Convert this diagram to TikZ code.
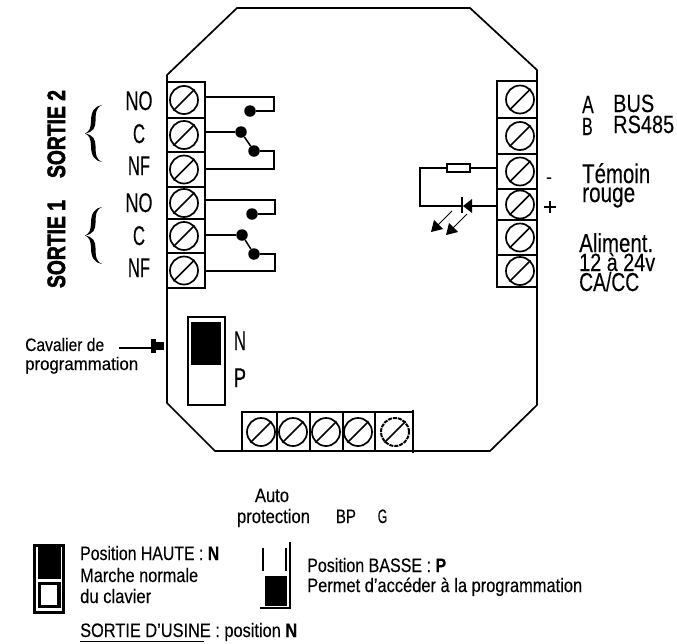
\documentclass[tikz,border=0pt]{standalone}
\usepackage{fontspec}
\usepackage{graphicx}
\setmainfont{Liberation Sans}[FakeBold=0.25]
\newfontfamily\heavy{Liberation Sans Bold}[FakeBold=2.5]
\newsavebox\fitb
\newcommand\fitw[3]{\fontsize{#2}{#2}\selectfont\sbox\fitb{#3}\pgfmathsetmacro\fitsc{#1/\wd\fitb}\scalebox{\fitsc}[1]{\usebox\fitb}}
\tikzset{
  x=1pt,y=-1pt,
  line/.style={draw=black,line width=1.7pt},
  wire/.style={draw=black,line width=1.5pt,line join=miter},
  bay/.style={draw=black,line width=1.4pt},
  dot/.style={circle,fill=black,inner sep=0pt,minimum size=11.5pt},
  lab/.style={anchor=base west,inner sep=0pt,text=black},
  clab/.style={anchor=base,inner sep=0pt,text=black},
  screw/.style={circle,draw=black,line width=1.7pt,inner sep=0pt,minimum size=28pt},
}
\newcommand\screwat[3]{%
  \node[screw,#3] (#1) at #2 {};
  \draw[line width=1.7pt] (#1.225) -- (#1.45);}
\begin{document}
\begin{tikzpicture}
\useasboundingbox (0,0) rectangle (677,643);
% case outline
\draw[line] (237,8) -- (470,8) -- (537,70) -- (537,405) -- (490,451) -- (215,451) -- (167,403) -- (167,75) -- cycle;
% left terminals
\foreach \a/\b/\n in {82/118/1,118/152/2,152/187/3,187/219/4,219/253/5,253/288/6}{
  \draw[bay] (167,\a) rectangle (205,\b);
  \screwat{ls\n}{(184,{(\a+\b)/2})}{}
}
% right terminals
\foreach \a/\b/\n in {81/118/1,118/154/2,154/189/3,189/220/4,220/255/5,255/287/6}{
  \draw[bay] (497,\a) rectangle (537,\b);
  \screwat{rs\n}{(520,{(\a+\b)/2})}{}
}
% bottom terminals
\foreach \a/\b/\c/\n in {242/277/261/1,277/310/293/2,310/343/326/3,343/375/358/4}{
  \draw[bay] (\a,412) rectangle (\b,451);
  \screwat{bs\n}{(\c,432)}{}
}
\draw[bay] (375,412) rectangle (413,451);
\draw[line width=1.7pt] (413,410) -- (413,453);
\screwat{bs5}{(395,432)}{dash pattern=on 4pt off 1pt,line width=2pt}
% relay 2
\node[dot] (c1a) at (250,111) {};
\node[dot] (c1b) at (241,132) {};
\node[dot] (c1c) at (254,151) {};
\coordinate (w1a) at (205,97);
\coordinate (w1b) at (205,132);
\coordinate (w1c) at (205,169);
\draw[wire] (w1a) -- (274,97) -- (274,111) -- (c1a);
\draw[wire] (w1b) -- (c1b);
\draw[wire] (c1b) -- (c1c);
\draw[wire] (c1c) -- (274,151) -- (274,169) -- (w1c);
% relay 1
\node[dot] (c2a) at (252,214) {};
\node[dot] (c2b) at (242,235) {};
\node[dot] (c2c) at (254,254) {};
\coordinate (w2a) at (205,200);
\coordinate (w2b) at (205,235);
\coordinate (w2c) at (205,271);
\draw[wire] (w2a) -- (275,200) -- (275,214) -- (c2a);
\draw[wire] (w2b) -- (c2b);
\draw[wire] (c2b) -- (c2c);
\draw[wire] (c2c) -- (275,254) -- (275,271) -- (w2c);
% labels left
\node[clab] (no2) at (139,110) {\fitw{27}{27}{NO}};
\node[clab] (cc2) at (139,143) {\fitw{12}{27}{C}};
\node[clab] (nf2) at (139,175) {\fitw{22}{27}{NF}};
\node[clab] (no1) at (139,212) {\fitw{27}{27}{NO}};
\node[clab] (cc1) at (139,245) {\fitw{12}{27}{C}};
\node[clab] (nf1) at (139,277) {\fitw{22}{27}{NF}};
\node[clab,rotate=90] (so2) at (65,134) {\fitw{88}{25}{\heavy SORTIE 2}};
\node[clab,rotate=90] (so1) at (65,244) {\fitw{88}{25}{\heavy SORTIE 1}};
% braces
\foreach \t in {105,207}{
  \fill (102,\t) .. controls (95,\t+1) and (91,\t+6) .. (91,\t+16)
     .. controls (91,\t+23) and (89,\t+27) .. (85,\t+28.5)
     .. controls (89,\t+30) and (91,\t+34) .. (91,\t+41)
     .. controls (91,\t+51) and (95,\t+56) .. (102,\t+57)
     .. controls (97,\t+55) and (95.5,\t+51) .. (95.5,\t+41)
     .. controls (95.5,\t+34) and (93,\t+30) .. (85,\t+28.5)
     .. controls (93,\t+27) and (95.5,\t+23) .. (95.5,\t+16)
     .. controls (95.5,\t+6) and (97,\t+2) .. (102,\t) -- cycle;
}
% LED
\node[draw=black,line width=1.3pt,inner sep=0pt,minimum width=23pt,minimum height=8pt] (res) at (458.5,168) {};
\coordinate (wa) at (497,168);
\coordinate (wb) at (497,206);
\draw[wire] (wa) -- (res.east);
\draw[wire] (res.west) -- (420,168) -- (420,206) -- (463,206);
\draw[wire] (472,206) -- (wb);
\fill (463,206) -- (472,199) -- (472,213) -- cycle;
\draw[line width=1.5pt] (462,197) -- (462,213);
\draw[line width=.8pt] (452,211) -- (438,225);
\fill (431,232) -- (434,220) -- (443,229) -- cycle;
\draw[line width=.8pt] (467,214) -- (453,228);
\fill (446,235) -- (449,223) -- (458,232) -- cycle;
% labels right
\node[lab] (la) at (582,113) {\fitw{11.5}{25}{A}};
\node[lab] (lb) at (582,135) {\fitw{10.5}{25}{B}};
\node[lab] (bus) at (613,112) {\fitw{41}{25}{BUS}};
\node[lab] (rs) at (613,133) {\fitw{61}{25}{RS485}};
\node[lab] (tem) at (582,183) {\fitw{68}{27}{Témoin}};
\node[lab] (rou) at (582,202) {\fitw{53}{27}{rouge}};
\node[clab] (mi) at (549,183) {\fontsize{18}{18}\selectfont -};
\node[clab] (pl) at (550,215) {\fontsize{24}{24}\selectfont +};
\node[lab] (al1) at (579,252) {\fitw{74}{26}{Aliment.}};
\node[lab] (al2) at (579,271) {\fitw{76}{25}{12 à 24v}};
\node[lab] (al3) at (579,291) {\fitw{60}{26}{CA/CC}};
% jumper
\draw[draw=black,line width=1.5pt] (188,317) rectangle (225,405);
\fill (191,322) rectangle (221,365);
\node[clab] (nn) at (240,350) {\fitw{12}{27}{N}};
\node[clab] (pp) at (240,387) {\fitw{12}{27}{P}};
\node[lab] (cav) at (25,351) {\fitw{79}{18}{Cavalier de}};
\node[lab] (pro) at (25,370) {\fitw{113}{18}{programmation}};
\coordinate (jp) at (155,348);
\draw[line width=1.6pt] (119,348) -- (jp);
\fill (151,339) rectangle (156,353);
\fill (155,342) rectangle (164,350);
% bottom labels
\node[clab] (auto) at (272,502) {\fitw{34}{19.5}{Auto}};
\node[clab] (prot) at (273.5,523) {\fitw{73}{19.5}{protection}};
\node[clab] (bp) at (346,523) {\fitw{20}{19.5}{BP}};
\node[clab] (gg) at (382.5,523) {\fitw{9.5}{19.5}{G}};
% legend switch N
\fill (33,544) rectangle (65,614);
\fill[white] (36,547) rectangle (62,611);
\fill (37.5,547) rectangle (60.5,579);
\fill (37.5,582) rectangle (60.5,608);
\fill[white] (41,585) rectangle (57,605);
% legend switch P
\draw[line width=1.8pt] (263,548) -- (263,571);
\draw[line width=1.8pt] (286,548) -- (286,571);
\draw[line width=1.8pt] (290,542) -- (290,608) -- (260,608);
\fill (265,576) rectangle (287,606);
% legend texts
\node[lab] (t1) at (80,560) {\fitw{139}{19.5}{Position HAUTE : \textbf{N}}};
\node[lab] (t2) at (80,582) {\fitw{118}{19.5}{Marche normale}};
\node[lab] (t3) at (80,603) {\fitw{71}{19.5}{du clavier}};
\node[lab] (t4) at (307,572) {\fitw{139}{19.5}{Position BASSE : \textbf{P}}};
\node[lab] (t5) at (307,592) {\fitw{275}{19.5}{Permet d’accéder à la programmation}};
\node[lab] (t6) at (80,637) {\fitw{217}{19.5}{SORTIE D’USINE : position \textbf{N}}};
\draw[line width=1.8pt] (80,641.5) -- (204,641.5);
\end{tikzpicture}
\end{document}
